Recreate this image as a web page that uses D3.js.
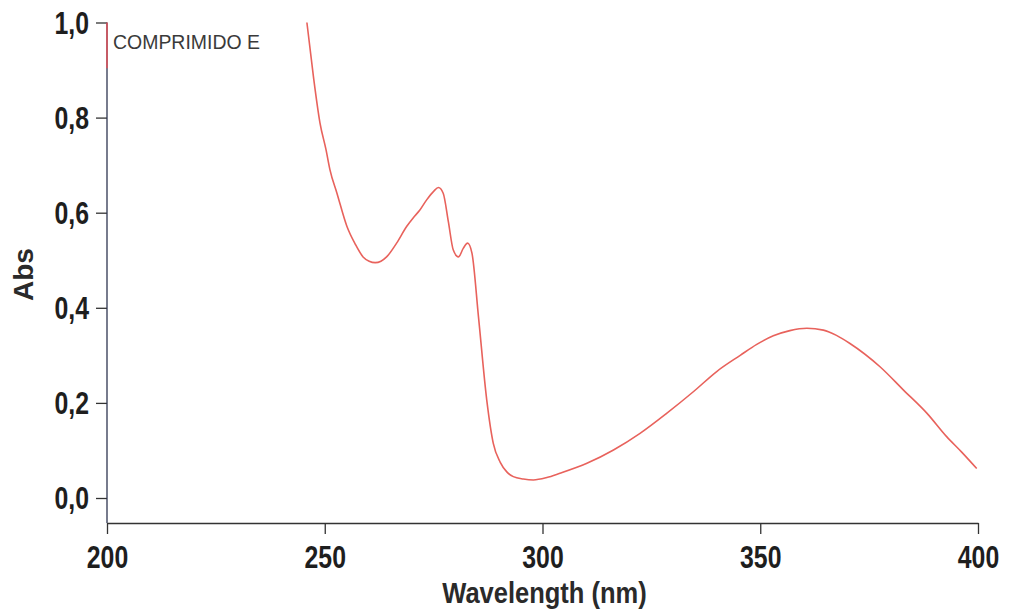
<!DOCTYPE html>
<html>
<head>
    <title>COMPRIMIDO E - UV spectrum</title>
    <script src="https://d3js.org/d3.v7.min.js"></script>
    <style>
        body {
            margin: 0;
            background: #fff;
        }
        .tick-label {
            font-family: "Liberation Sans", Arial, sans-serif;
            font-weight: bold;
            font-size: 31px;
            fill: #1e1e1e;
        }
        .axis-title {
            font-family: "Liberation Sans", Arial, sans-serif;
            font-weight: bold;
            font-size: 30px;
            fill: #2a2a2a;
        }
    </style>
</head>
<body>
    <div id="chart"></div>
    <script>
        // Spectrum (nm, absorbance)
        const wavelength = [245.9, 247.4, 248.9, 250.3, 251.2, 252.8, 255.1, 257.0, 258.8, 260.2, 261.6, 262.9, 264.2, 266.5, 268.8, 270.3, 271.8, 273.4, 275.0, 276.1, 277.2, 278.4, 279.5, 280.7, 281.8, 282.8, 283.8, 285.3, 287.2, 288.7, 290.3, 291.8, 293.3, 295.6, 297.9, 301.0, 304.0, 310.2, 316.3, 322.4, 328.5, 334.7, 340.0, 345.4, 349.2, 353.0, 356.8, 360.7, 364.5, 367.5, 370.6, 377.5, 382.9, 388.3, 392.8, 396.2, 399.7];
        const absorbance = [1.000, 0.886, 0.789, 0.732, 0.690, 0.641, 0.571, 0.534, 0.507, 0.498, 0.495, 0.498, 0.507, 0.536, 0.571, 0.589, 0.605, 0.627, 0.645, 0.653, 0.641, 0.580, 0.522, 0.507, 0.525, 0.536, 0.515, 0.381, 0.206, 0.115, 0.075, 0.055, 0.045, 0.040, 0.038, 0.043, 0.052, 0.073, 0.101, 0.136, 0.178, 0.224, 0.266, 0.300, 0.323, 0.341, 0.352, 0.357, 0.353, 0.342, 0.325, 0.276, 0.227, 0.178, 0.129, 0.097, 0.062];

        const xTicks = [200, 250, 300, 350, 400];
        const yTicks = [0, 0.2, 0.4, 0.6, 0.8, 1.0];
        const sampleName = "COMPRIMIDO E";
        // off-scale trace at 200 nm drawn over the y axis (red part of the axis)
        const offScaleFrom = 0.904;

        const width = 1035, height = 612;
        const narrow = 0.8; // squeeze to imitate a narrow bold face

        const svg = d3.select('#chart').append('svg')
            .attr('width', width)
            .attr('height', height);

        const x = d3.scaleLinear().domain([200, 400]).range([107, 978]);
        const y = d3.scaleLinear().domain([0, 1]).range([498, 22.5]);
        const axisY = 523; // where the x axis sits
        const fmt = v => d3.format('.1f')(v).replace('.', ',');

        // x axis
        const gx = svg.append('g').attr('transform', `translate(0,${axisY})`)
            .call(d3.axisBottom(x).tickValues(xTicks).tickSize(11).tickSizeOuter(0).tickPadding(12));
        gx.select('.domain').attr('stroke', '#333').attr('stroke-width', 1.3);
        gx.selectAll('.tick line').attr('stroke', '#333').attr('stroke-width', 1.3);
        gx.selectAll('.tick text')
            .attr('class', 'tick-label').attr('font-size', null).attr('font-family', null)
            .attr('transform', `scale(${narrow},1)`);

        // y axis (line runs down to the x axis)
        const gy = svg.append('g').attr('transform', `translate(${x(200)},0)`)
            .call(d3.axisLeft(y).tickValues(yTicks).tickFormat(fmt).tickSize(11).tickSizeOuter(0));
        gy.select('.domain').remove();
        gy.append('line')
            .attr('y1', y(1)).attr('y2', axisY)
            .attr('stroke', '#2e3550').attr('stroke-width', 1.3);
        gy.append('line')
            .attr('y1', y(1)).attr('y2', y(offScaleFrom))
            .attr('stroke', '#e0505a').attr('stroke-width', 1.5);
        gy.selectAll('.tick line').attr('stroke', '#333').attr('stroke-width', 1.3);
        gy.selectAll('.tick text')
            .attr('class', 'tick-label').attr('font-size', null).attr('font-family', null)
            .attr('x', -18 / narrow)
            .attr('dy', '0.35em')
            .attr('transform', `scale(${narrow},1)`);

        // axis titles
        svg.append('text').attr('class', 'axis-title')
            .attr('transform', `translate(${x(300) + 2},603) scale(0.85,1)`)
            .attr('text-anchor', 'middle')
            .text('Wavelength (nm)');
        svg.append('text').attr('class', 'axis-title')
            .attr('transform', `translate(33,${y(0.47)}) rotate(-90)`)
            .attr('text-anchor', 'middle')
            .style('font-size', '28px')
            .text('Abs');

        // sample label
        svg.append('text')
            .attr('x', 113).attr('y', 49)
            .style('font-family', '"Liberation Sans", Arial, sans-serif')
            .style('font-size', '20px')
            .attr('fill', '#3a3a3a')
            .attr('textLength', 147)
            .attr('lengthAdjust', 'spacingAndGlyphs')
            .text(sampleName);

        // spectrum
        const data = wavelength.map((w, i) => ({ w, a: absorbance[i] }));
        const line = d3.line()
            .x(d => x(d.w))
            .y(d => y(d.a))
            .curve(d3.curveMonotoneX);

        svg.append('path')
            .datum(data)
            .attr('fill', 'none')
            .attr('stroke', '#e8625c')
            .attr('stroke-width', 1.6)
            .attr('d', line);
    </script>
</body>
</html>
